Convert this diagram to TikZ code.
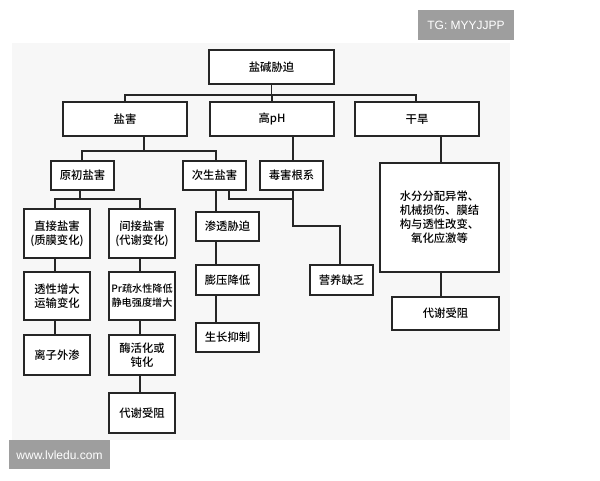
\documentclass[tikz,border=0pt]{standalone}
\usepackage{fontspec}
\newfontfamily\cjk{Noto Sans CJK SC Medium}
\newfontfamily\wm{Liberation Sans}
\begin{document}
\begin{tikzpicture}[x=0.75pt,y=-0.75pt,
  bx/.style={draw=black!85,line width=0.9pt,fill=white,inner sep=0pt,align=center,font=\cjk\fontsize{8.5}{10.5}\selectfont},
  ln/.style={draw=black!85,line width=0.9pt}]
\useasboundingbox (0,0) rectangle (600,480);
\fill[white] (0,0) rectangle (600,480);
\fill[black!3] (12,43) rectangle (510,440);
\newcommand\bxx[6]{\node[bx,minimum width={(#4-#2)*0.75pt},minimum height={(#5-#3)*0.75pt}] (#1) at ({(#2+#4)/2},{(#3+#5)/2}) {#6};}
\bxx{root}{209}{50}{334}{84}{盐碱胁迫}
\bxx{yh}{63}{102}{187}{136}{盐害}
\bxx{ph}{210}{102}{334}{136}{高pH}
\bxx{gh}{355}{102}{479}{136}{干旱}
\bxx{yc}{51}{161}{114}{190}{原初盐害}
\bxx{cs}{183}{161}{246}{190}{次生盐害}
\bxx{dh}{260}{161}{323}{190}{毒害根系}
\bxx{sf}{380}{163}{499}{272}{水分分配异常、\\机械损伤、膜结\\构与透性改变、\\氧化应激等}
\bxx{dx2}{392}{297}{499}{330}{代谢受阻}
\bxx{zj}{24}{209}{90}{258}{直接盐害\\(质膜变化)}
\bxx{jj}{109}{209}{175}{258}{间接盐害\\(代谢变化)}
\bxx{tx}{24}{272}{90}{320}{透性增大\\运输变化}
\node[bx,font=\cjk\fontsize{7.6}{10.5}\selectfont,minimum width={66*0.75pt},minimum height={48*0.75pt}] (pr) at (142,296) {Pr疏水性降低\\静电强度增大};
\bxx{lz}{24}{335}{90}{375}{离子外渗}
\bxx{mh}{109}{335}{175}{375}{酶活化或\\钝化}
\bxx{dx1}{109}{393}{175}{433}{代谢受阻}
\bxx{st}{196}{212}{259}{241}{渗透胁迫}
\bxx{py}{196}{265}{259}{295}{膨压降低}
\bxx{sz}{196}{323}{259}{352}{生长抑制}
\bxx{yy}{310}{265}{373}{295}{营养缺乏}
\draw[ln] (root.south) -- (root.south |- 0,95);
\draw[ln] (125,102) -- (125,95) -- (416,95) -- (416,102);
\draw[ln] (272,102) -- (272,95);
\draw[ln] (144,136) -- (144,151);
\draw[ln] (82,161) -- (82,151) -- (216,151) -- (216,161);
\draw[ln] (293,136) -- (293,161);
\draw[ln] (441,136) -- (441,163);
\draw[ln] (441,272) -- (441,297);
\draw[ln] (80,190) -- (80,199);
\draw[ln] (55,209) -- (55,199) -- (140,199) -- (140,209);
\draw[ln] (55,258) -- (55,272) (55,320) -- (55,335);
\draw[ln] (140,258) -- (140,272) (140,320) -- (140,335) (140,375) -- (140,393);
\draw[ln] (216,190) -- (216,212) (216,241) -- (216,265) (216,295) -- (216,323);
\draw[ln] (229,190) -- (229,199) -- (293,199);
\draw[ln] (293,190) -- (293,226) -- (340,226) -- (340,265);
\fill[black!38] (418,10) rectangle (514,40);
\node[white,font=\wm\fontsize{9}{11}\selectfont] (t1) at (466,25) {TG: MYYJJPP};
\fill[black!38] (9,440) rectangle (110,469);
\node[white,font=\wm\fontsize{9}{11}\selectfont] (t2) at (59.5,455) {www.lvledu.com};
\end{tikzpicture}
\end{document}
